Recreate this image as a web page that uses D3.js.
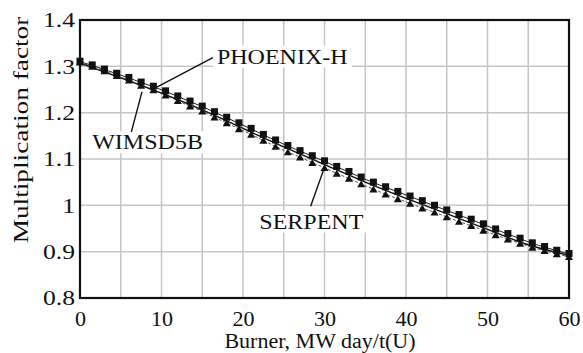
<!DOCTYPE html>
<html>
<head>
<meta charset="utf-8">
<script src="https://cdn.jsdelivr.net/npm/d3@7"></script>
<style>
  body { margin: 0; background: #fff; }
  svg text { font-family: 'Liberation Serif', 'Times New Roman', serif; fill: #111; }
</style>
</head>
<body>
<div id="chart"></div>
<script>
// burnup points (MW day/t(U))
const burnup = [0, 1.5, 3, 4.5, 6, 7.5, 9, 10.5, 12, 13.5, 15, 16.5, 18, 19.5, 21, 22.5, 24, 25.5, 27, 28.5,
  30, 31.5, 33, 34.5, 36, 37.5, 39, 40.5, 42, 43.5, 45, 46.5, 48, 49.5, 51, 52.5, 54, 55.5, 57, 58.5, 60];
const phoenix = [1.310, 1.302, 1.293, 1.284, 1.275, 1.265, 1.256, 1.246, 1.235, 1.224, 1.213, 1.201, 1.189, 1.177,
  1.165, 1.152, 1.140, 1.128, 1.117, 1.106, 1.095, 1.083, 1.072, 1.060, 1.049, 1.039, 1.029, 1.019, 1.009, 0.999,
  0.989, 0.979, 0.969, 0.959, 0.948, 0.938, 0.928, 0.918, 0.910, 0.902, 0.895];
const serpent = [1.309, 1.300, 1.290, 1.280, 1.270, 1.259, 1.249, 1.238, 1.226, 1.214, 1.203, 1.190, 1.178, 1.165,
  1.153, 1.140, 1.127, 1.115, 1.104, 1.092, 1.081, 1.069, 1.058, 1.046, 1.035, 1.024, 1.014, 1.004, 0.994, 0.985,
  0.975, 0.965, 0.956, 0.946, 0.936, 0.927, 0.918, 0.909, 0.902, 0.895, 0.889];
const wimsBurnup = [0, 5, 10, 15, 20, 25, 30, 35, 40, 45, 50, 55, 60];
const wims = [1.307, 1.275, 1.242, 1.206, 1.166, 1.126, 1.088, 1.050, 1.015, 0.982, 0.948, 0.915, 0.892];

const xTicks = [0, 10, 20, 30, 40, 50, 60];
const yTicks = [0.8, 0.9, 1, 1.1, 1.2, 1.3, 1.4];

const W = 583, H = 353;
const margin = {top: 20, right: 14, bottom: 55, left: 80};
const width = W - margin.left - margin.right;
const height = H - margin.top - margin.bottom;
const FONT = "'Liberation Serif', 'Times New Roman', serif";

const svg = d3.select('#chart').append('svg')
  .attr('width', W).attr('height', H)
  .attr('font-family', FONT);
const g = svg.append('g')
  .attr('transform', `translate(${margin.left},${margin.top})`);

const x = d3.scaleLinear().domain([0, 60]).range([0, width]);
const y = d3.scaleLinear().domain([0.8, 1.4]).range([height, 0]);

// the source picture is a bit wider than it is tall, so stretch the text along its run
function stretch(sel, k) {
  sel.each(function () {
    const w = this.getComputedTextLength();
    d3.select(this).attr('textLength', w * k).attr('lengthAdjust', 'spacingAndGlyphs');
  });
}

// grid
g.append('g').selectAll('line')
  .data(d3.range(5, 60, 5))
  .enter().append('line')
  .attr('x1', d => x(d)).attr('x2', d => x(d))
  .attr('y1', 0).attr('y2', height)
  .attr('stroke', '#c6c6c6').attr('stroke-width', 1.5);
g.append('g').selectAll('line')
  .data(yTicks.slice(1, -1))
  .enter().append('line')
  .attr('x1', 0).attr('x2', width)
  .attr('y1', d => y(d)).attr('y2', d => y(d))
  .attr('stroke', '#c6c6c6').attr('stroke-width', 1.5);

// series
const ptsP = burnup.map((b, i) => [b, phoenix[i]]);
const ptsS = burnup.map((b, i) => [b, serpent[i]]);
const ptsW = wimsBurnup.map((b, i) => [b, wims[i]]);
const line = d3.line().x(d => x(d[0])).y(d => y(d[1])).curve(d3.curveMonotoneX);

g.append('path').datum(ptsS).attr('d', line)
  .attr('fill', 'none').attr('stroke', '#555').attr('stroke-width', 1).attr('stroke-dasharray', '3,2');
g.append('path').datum(ptsP).attr('d', line)
  .attr('fill', 'none').attr('stroke', '#222').attr('stroke-width', 1);
g.append('path').datum(ptsW).attr('d', line)
  .attr('fill', 'none').attr('stroke', '#111').attr('stroke-width', 1.4);

g.selectAll('rect.sq').data(ptsP).enter().append('rect')
  .attr('class', 'sq')
  .attr('x', d => x(d[0]) - 3.5).attr('y', d => y(d[1]) - 4)
  .attr('width', 7).attr('height', 7).attr('fill', '#111');
const tri = d3.symbol().type(d3.symbolTriangle).size(28);
g.selectAll('path.tri').data(ptsS).enter().append('path')
  .attr('class', 'tri')
  .attr('d', tri)
  .attr('transform', d => `translate(${x(d[0])},${y(d[1]) + 1})`)
  .attr('fill', '#111');

// annotations
function label(txt, tx, ty, lx1, ly1, lx2, ly2) {
  const t = g.append('text').attr('x', tx).attr('y', ty).attr('font-size', 20).text(txt);
  stretch(t, 1.2);
  const bb = t.node().getBBox();
  g.insert('rect', () => t.node())
    .attr('x', bb.x - 4).attr('y', bb.y).attr('width', bb.width + 8).attr('height', bb.height)
    .attr('fill', '#fff');
  g.append('line').attr('x1', lx1).attr('y1', ly1).attr('x2', lx2).attr('y2', ly2)
    .attr('stroke', '#111').attr('stroke-width', 1.4);
}
label('PHOENIX-H', x(16.8), y(1.306), x(16.3), y(1.306) - 6, x(9.2), y(1.253));
label('WIMSD5B', x(1.5), y(1.121), x(6.3), y(1.163) + 2, x(7.6), y(1.245));
label('SERPENT', x(22.0), y(0.95), x(28.3), y(0.998), x(30.0), y(1.082));

// frame
g.append('rect').attr('x', 0).attr('y', 0).attr('width', width).attr('height', height)
  .attr('fill', 'none').attr('stroke', '#111').attr('stroke-width', 2.2);

// axes
const xAxis = g.append('g').attr('transform', `translate(0,${height})`)
  .call(d3.axisBottom(x).tickValues(xTicks).tickSize(0).tickPadding(13).tickFormat(d3.format('d')));
const yAxis = g.append('g')
  .call(d3.axisLeft(y).tickValues(yTicks).tickSize(0).tickPadding(5)
    .tickFormat(d => d === 1 ? '1' : d3.format('.1f')(d)));
[xAxis, yAxis].forEach(a => {
  a.select('.domain').remove();
  a.attr('font-family', FONT);
  a.selectAll('text').attr('font-size', 21).attr('fill', '#111');
});
stretch(xAxis.selectAll('text'), 1.05);
stretch(yAxis.selectAll('text'), 1.22);

const xt = svg.append('text').attr('x', 320).attr('y', 348)
  .attr('text-anchor', 'middle').attr('font-size', 20).text('Burner, MW day/t(U)');
stretch(xt, 1.1);
const yt = svg.append('text')
  .attr('transform', 'translate(28,130) rotate(-90)')
  .attr('text-anchor', 'middle').attr('font-size', 21).text('Multiplication factor');
stretch(yt, 1.3);
</script>
</body>
</html>
